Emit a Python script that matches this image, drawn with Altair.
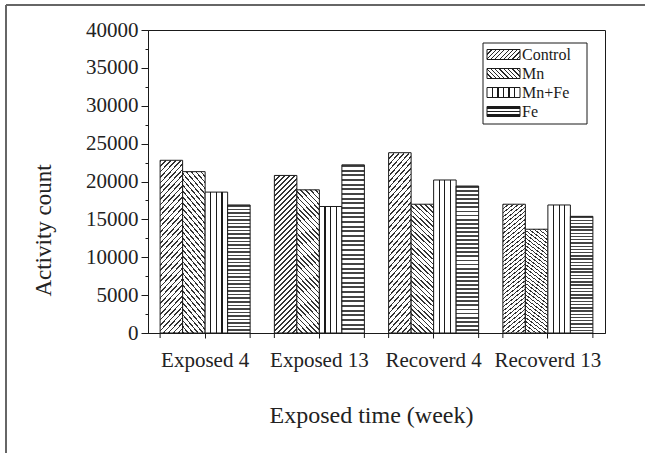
import altair as alt
import pandas as pd

# ---- data -------------------------------------------------------------
groups = ["Exposed 4", "Exposed 13", "Recoverd 4", "Recoverd 13"]
series = ["Control", "Mn", "Mn+Fe", "Fe"]
control = [22800, 20800, 23800, 17000]
mn = [21300, 18900, 17000, 13700]
mn_fe = [18600, 16700, 20200, 16900]
fe = [16900, 22200, 19400, 15400]
y_ticks = list(range(0, 40001, 2500))

rows = []
for s, vals in zip(series, [control, mn, mn_fe, fe]):
    for g, v in zip(groups, vals):
        rows.append({"group": g, "series": s, "count": v})
df = pd.DataFrame(rows)
grp_df = pd.DataFrame({"group": groups})
one = pd.DataFrame({"k": [0]})

# ---- style ------------------------------------------------------------
W, H = 457, 303
INK = "#1a1a1a"
FONT = "Liberation Serif, Times New Roman, serif"


def stripes(n, x1, y1, x2, y2, ink, frac, start=0.0, bg="white"):
    """Linear gradient with hard stops, giving n parallel hatch lines."""
    stops = [{"offset": 0, "color": bg}]
    for k in range(n):
        a = max(0.0, min(1.0, (k + start) / n))
        b = max(0.0, min(1.0, (k + start + frac) / n))
        stops += [
            {"offset": a, "color": bg},
            {"offset": a, "color": ink},
            {"offset": b, "color": ink},
            {"offset": b, "color": bg},
        ]
    stops.append({"offset": 1, "color": bg})
    return {"gradient": "linear", "x1": x1, "y1": y1, "x2": x2, "y2": y2,
            "stops": stops}


def diagonal(ratio, n, rising, ink, frac):
    """Hatching at about 45 degrees for a box of width/height = ratio."""
    b = (1 + ratio) / (1 + ratio * ratio)
    a = ratio * b
    if rising:
        return stripes(n, 0, 0, a, b, ink, frac)
    return stripes(n, 0, 1, a, 1 - b, ink, frac)


def verticals(n, ink, width):
    stops = [{"offset": 0, "color": "white"}]
    for k in range(1, n):
        c = k / n
        stops += [
            {"offset": c - width / 2, "color": "white"},
            {"offset": c - width / 2, "color": ink},
            {"offset": c + width / 2, "color": ink},
            {"offset": c + width / 2, "color": "white"},
        ]
    stops.append({"offset": 1, "color": "white"})
    return {"gradient": "linear", "x1": 0, "y1": 0, "x2": 1, "y2": 0,
            "stops": stops}


bar_fill = {
    "Control": diagonal(22.5 / 158, 36, True, "#333", 0.3),
    "Mn": diagonal(22.5 / 135, 32, False, "#333", 0.3),
    "Mn+Fe": verticals(4, "#1a1a1a", 0.05),
    "Fe": stripes(36, 0, 0, 0, 1, "#444", 0.45),
}
key_fill = {
    "Control": diagonal(33 / 10, 10, True, "#2a2a2a", 0.3),
    "Mn": diagonal(33 / 10, 10, False, "#2a2a2a", 0.3),
    "Mn+Fe": verticals(6, "#1a1a1a", 0.04),
    "Fe": stripes(3, 0, 0, 0, 1, "#1a1a1a", 0.5, start=0.25),
}

x_scale = alt.Scale(domain=groups, paddingInner=0.212, paddingOuter=0.106)
x_axis = alt.Axis(
    title="Exposed time (week)",
    labelAngle=0, labelFont=FONT, labelFontSize=21, labelColor="#222",
    labelPadding=28, labelBaseline="alphabetic",
    tickSize=5, tickColor=INK, domainColor=INK,
    titleFont=FONT, titleFontSize=24, titleFontWeight="normal",
    titleColor="#222", titleX=223, titleY=89, titleAlign="center",
    titleBaseline="alphabetic",
)
y_axis = alt.Axis(
    title="Activity count",
    values=y_ticks, format="d",
    labelExpr="datum.value % 5000 === 0 ? datum.label : ''",
    labelOverlap=False, labelFont=FONT, labelFontSize=21, labelColor="#222",
    labelPadding=3, grid=False,
    tickSize={"condition": {"test": "datum.value % 5000 === 0", "value": 7},
              "value": 3},
    tickColor=INK, domainColor=INK,
    titleFont=FONT, titleFontSize=23, titleFontWeight="normal",
    titleColor="#222", titleAngle=-90, titleX=-98, titleY=200,
    titleAlign="center", titleBaseline="alphabetic",
)

fill_rule = alt.value(
    bar_fill["Fe"],
    condition=[
        {"test": f"datum.series === '{s}'", "value": bar_fill[s]}
        for s in ["Control", "Mn", "Mn+Fe"]
    ],
)

bars = alt.Chart(df).mark_bar(stroke=INK, strokeWidth=1).encode(
    x=alt.X("group:N", sort=groups, scale=x_scale, axis=x_axis),
    xOffset=alt.XOffset("series:N", sort=series,
                        scale=alt.Scale(domain=series, paddingInner=0,
                                        paddingOuter=0)),
    y=alt.Y("count:Q", scale=alt.Scale(domain=[0, 40000], nice=False),
            axis=y_axis),
    fill=fill_rule,
)

# extra ticks on the category axis at the group boundaries
edge_ticks = [
    alt.Chart(grp_df).mark_rule(color=INK, strokeWidth=1).encode(
        x=alt.X("group:N", sort=groups, scale=x_scale, axis=x_axis,
                bandPosition=bp),
        y=alt.value(H), y2=alt.value(H + 5),
    )
    for bp in (0, 1)
]

# key box in the upper right corner of the plot
key_box = alt.Chart(one).mark_rect(fill="white", stroke=INK, strokeWidth=1).encode(
    x=alt.value(335), x2=alt.value(439), y=alt.value(13), y2=alt.value(94)
)
key_layers = []
for i, s in enumerate(series):
    top = 19.5 + 19 * i
    key_layers.append(
        alt.Chart(one).mark_rect(fill=key_fill[s], stroke=INK, strokeWidth=1).encode(
            x=alt.value(339), x2=alt.value(372),
            y=alt.value(top), y2=alt.value(top + 10),
        )
    )
    key_layers.append(
        alt.Chart(one).mark_text(
            text=s, align="left", baseline="alphabetic", font=FONT,
            fontSize=16, color=INK,
        ).encode(x=alt.value(374), y=alt.value(top + 10))
    )

# outer frame lines (top and left)
frame_top = alt.Chart(one).mark_rule(color="#666", strokeWidth=2).encode(
    x=alt.value(-142), x2=alt.value(497), y=alt.value(-25)
)
frame_left = alt.Chart(one).mark_rule(color="#666", strokeWidth=2).encode(
    x=alt.value(-142), y=alt.value(-25), y2=alt.value(423)
)

chart = alt.layer(
    bars, *edge_ticks, key_box, *key_layers, frame_top, frame_left
).properties(
    width=W, height=H,
    padding={"left": 148, "top": 30, "right": 40, "bottom": 120},
    autosize=alt.AutoSizeParams(type="none"),
    background="white",
).configure_view(stroke=INK, strokeWidth=1)

chart.save("out.html", embed_options={"renderer": "svg", "actions": False})
